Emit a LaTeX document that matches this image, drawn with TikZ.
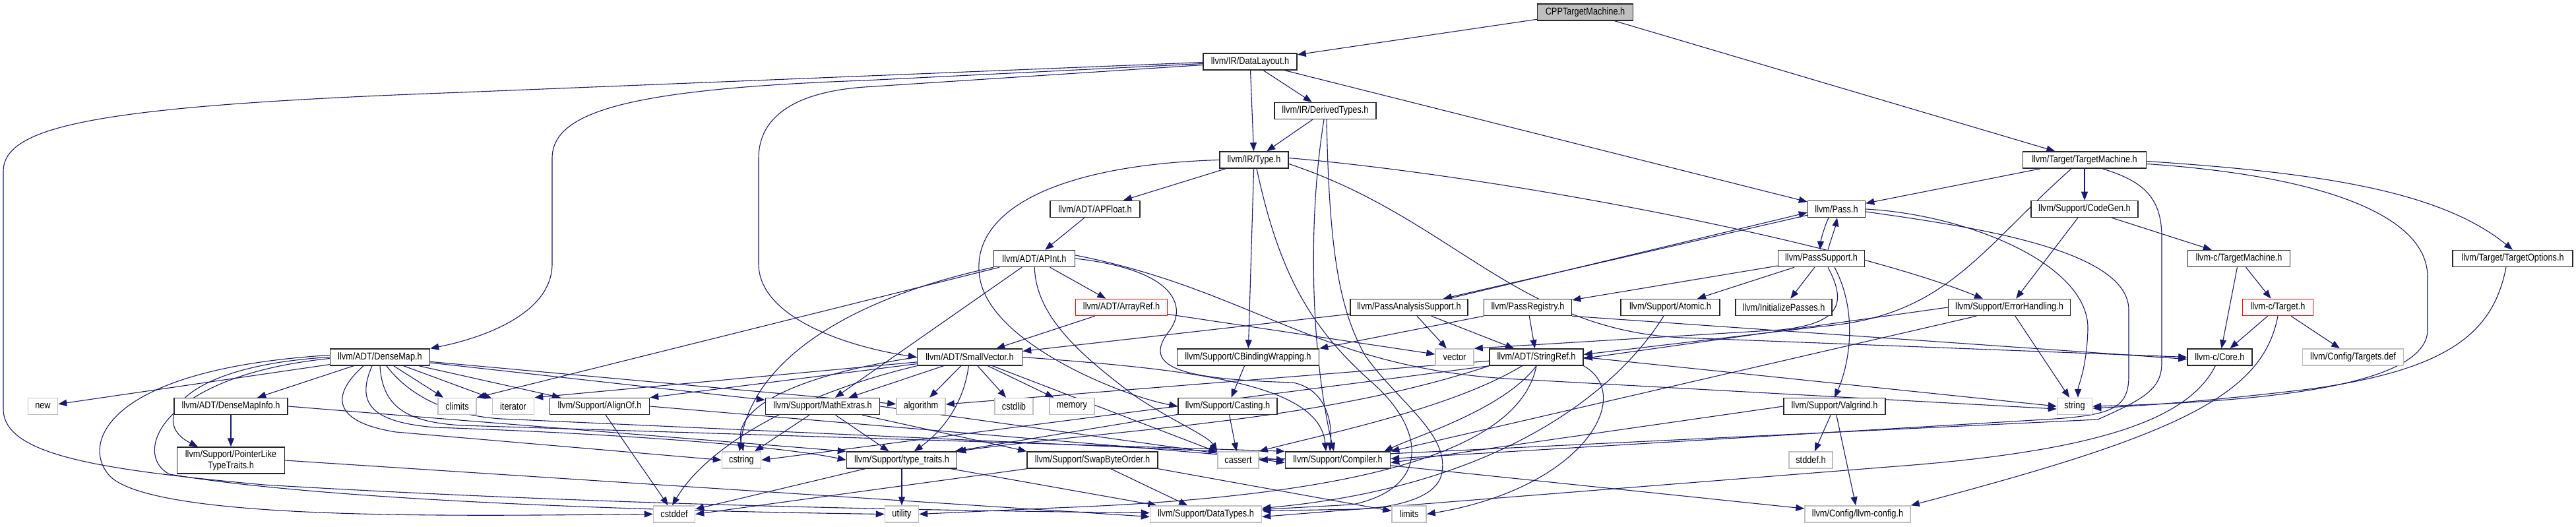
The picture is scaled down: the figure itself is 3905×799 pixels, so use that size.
\documentclass[tikz,border=0pt]{standalone}
\usepackage{fontspec}
\setmainfont{Liberation Sans}[FakeStretch=0.85]
\usetikzlibrary{arrows.meta,backgrounds}
\definecolor{eb}{HTML}{191970}
\definecolor{gb}{HTML}{BFBFBF}
\definecolor{rb}{HTML}{FF0000}
\begin{document}
\begin{tikzpicture}[x=1pt,y=-1pt,
  n/.style={draw=black!85, line width=1.5pt, fill=white, minimum height=25pt, inner sep=0pt, font=\fontsize{15}{17}\selectfont},
  g/.style={n, draw=gb},
  r/.style={n, draw=rb},
  root/.style={n, fill=gb},
  e/.style={draw=eb, line width=1.1pt, -{Triangle[length=13pt,width=10pt]}},
]
\useasboundingbox (0,0) rectangle (3905,799);
% ---------------- nodes
\node[root, minimum width=145pt] (CPP) at (2403,18.5) {CPPTargetMachine.h};
\node[n, minimum width=142pt] (DL) at (1895,93.5) {llvm/IR/DataLayout.h};
\node[n, minimum width=154pt] (DT) at (2009,168) {llvm/IR/DerivedTypes.h};
\node[n, minimum width=104pt] (TY) at (1901,242.5) {llvm/IR/Type.h};
\node[n, minimum width=187pt] (TM) at (3160,242.5) {llvm/Target/TargetMachine.h};
\node[n, minimum width=136pt] (APF) at (1660,317) {llvm/ADT/APFloat.h};
\node[n, minimum width=87pt] (PASS) at (2784,317) {llvm/Pass.h};
\node[n, minimum width=162pt] (CG) at (3160,317) {llvm/Support/CodeGen.h};
\node[n, minimum width=123pt] (API) at (1568,392) {llvm/ADT/APInt.h};
\node[n, minimum width=131pt] (PS) at (2761,392) {llvm/PassSupport.h};
\node[n, minimum width=155pt] (CTM) at (3394,392) {llvm-c/TargetMachine.h};
\node[n, minimum width=182pt] (TO) at (3809,392) {llvm/Target/TargetOptions.h};
\node[r, minimum width=139pt] (AR) at (1700,466) {llvm/ADT/ArrayRef.h};
\node[n, minimum width=178pt] (PAS) at (2136,466) {llvm/PassAnalysisSupport.h};
\node[n, minimum width=133pt] (PR) at (2316,466) {llvm/PassRegistry.h};
\node[n, minimum width=150pt] (AT) at (2532,466) {llvm/Support/Atomic.h};
\node[n, minimum width=146pt] (IP) at (2704,466) {llvm/InitializePasses.h};
\node[n, minimum width=185pt] (EH) at (3046,466) {llvm/Support/ErrorHandling.h};
\node[r, minimum width=107pt] (CT) at (3453,466) {llvm-c/Target.h};
\node[n, minimum width=151pt] (DM) at (576,541.5) {llvm/ADT/DenseMap.h};
\node[n, minimum width=159pt] (SV) at (1470,541.5) {llvm/ADT/SmallVector.h};
\node[n, minimum width=215pt] (CBW) at (1892,541.5) {llvm/Support/CBindingWrapping.h};
\node[g, minimum width=58pt] (VEC) at (2205,541.5) {vector};
\node[n, minimum width=142pt] (SR) at (2329,541.5) {llvm/ADT/StringRef.h};
\node[n, minimum width=98pt] (CORE) at (3365,541.5) {llvm-c/Core.h};
\node[g, minimum width=153pt] (TDEF) at (3567,541.5) {llvm/Config/Targets.def};
\node[g, minimum width=45pt] (NEW) at (65,616) {new};
\node[n, minimum width=172pt] (DMI) at (350,616) {llvm/ADT/DenseMapInfo.h};
\node[g, minimum width=58pt] (CLIM) at (693,616) {climits};
\node[g, minimum width=63pt] (ITER) at (778,616) {iterator};
\node[n, minimum width=151pt] (ALIGN) at (909,616) {llvm/Support/AlignOf.h};
\node[n, minimum width=173pt] (MATH) at (1247,616) {llvm/Support/MathExtras.h};
\node[g, minimum width=74pt] (ALGO) at (1396,616) {algorithm};
\node[g, minimum width=58pt] (CSTDLIB) at (1537,616) {cstdlib};
\node[g, minimum width=68pt] (MEM) at (1625,616) {memory};
\node[n, minimum width=150pt] (CAST) at (1861,616) {llvm/Support/Casting.h};
\node[n, minimum width=154pt] (VALG) at (2781,616) {llvm/Support/Valgrind.h};
\node[g, minimum width=53pt] (STR) at (3145,616) {string};
\node[n, minimum width=163pt, minimum height=40pt, align=center] (PLTT) at (350,698) {llvm/Support/PointerLike\\TypeTraits.h};
\node[g, minimum width=59pt] (CSTRING) at (1124,697.5) {cstring};
\node[n, minimum width=167pt] (TT) at (1367,697.5) {llvm/Support/type\_traits.h};
\node[n, minimum width=198pt] (SBO) at (1656,697.5) {llvm/Support/SwapByteOrder.h};
\node[g, minimum width=62pt] (CASSERT) at (1877,697.5) {cassert};
\node[n, minimum width=159pt] (COMP) at (2028,697.5) {llvm/Support/Compiler.h};
\node[g, minimum width=66pt] (STDDEF) at (2745,697.5) {stddef.h};
\node[g, minimum width=63pt] (CSTDDEF) at (1022,779.5) {cstddef};
\node[g, minimum width=51pt] (UTIL) at (1367,779.5) {utility};
\node[g, minimum width=169pt] (DTY) at (1828,779.5) {llvm/Support/DataTypes.h};
\node[g, minimum width=52pt] (LIM) at (2136,779.5) {limits};
\node[g, minimum width=160pt] (LCFG) at (2816,779.5) {llvm/Config/llvm-config.h};
% ---------------- edges
\begin{pgfonlayer}{background}
% root
\draw[e] (CPP) -- (DL);
\draw[e] (CPP) -- (TM);
% DataLayout
\draw[e] (DL) -- (DT);
\draw[e] (DL) -- (TY);
\draw[e] (DL) -- (PASS);
\draw[e] ([yshift=-1pt]DL.west) -- (700,140) .. controls (150,160) and (5,190) .. (5,260) -- (5,620) .. controls (5,690) and (150,712) .. (400,735) .. controls (900,765) and (1400,774) .. ([yshift=2pt]DTY.west);
\draw[e] ([yshift=-3pt]DL.west) -- (1310,122) .. controls (950,135) and (837,170) .. (837,240) -- (837,400) .. controls (837,480) and (720,515) .. (DM.north east);
\draw[e] ([yshift=-5pt]DL.west) -- (1310,132) .. controls (1200,140) and (1150,180) .. (1150,240) -- (1150,400) .. controls (1150,480) and (1280,525) .. (SV.west);
% DerivedTypes
\draw[e] (DT) -- (TY);
\draw[e] ([xshift=-2pt]DT.south) .. controls (1980,350) and (1990,550) .. ([xshift=-6pt]COMP.north);
\draw[e] ([xshift=2pt]DT.south) .. controls (2015,380) and (2030,470) .. (2070,540) .. controls (2120,610) and (2200,660) .. (2185,720) .. controls (2175,760) and (2100,770) .. (2060,772) -- ([yshift=5pt]DTY.east);
% Type
\draw[e] (TY) -- (APF);
\draw[e] (TY.west) .. controls (1600,250) and (1470,320) .. (1485,420) .. controls (1500,520) and (1700,600) .. (CAST.west);
\draw[e] (TY) -- (CBW);
\draw[e] ([xshift=4pt]TY.south) .. controls (1940,420) and (1990,500) .. (2080,580) .. controls (2160,650) and (2170,740) .. (2050,765) -- ([yshift=7pt]DTY.east);
\draw[e] ([yshift=3pt]TY.east) .. controls (2300,270) and (2800,370) .. ([xshift=-40pt]EH.north);
\draw[e] ([yshift=-6pt]TY.east) .. controls (2200,330) and (2300,500) .. (2550,512) -- (CORE.west);
% TargetMachine
\draw[e] (TM) -- (PASS);
\draw[e] (TM) -- (CG);
\draw[e] ([yshift=-2pt]TM.east) .. controls (3520,262) and (3700,290) .. (TO.north);
\draw[e] ([yshift=-6pt]TM.east) .. controls (3500,265) and (3680,320) .. (3680,420) -- (3680,500) .. controls (3680,590) and (3400,610) .. (STR.east);
\draw[e] ([xshift=27pt]TM.south) .. controls (3250,275) and (3277,300) .. (3277,360) -- (3277,550) .. controls (3277,590) and (3250,605) .. (3180,636) -- (CASSERT.east);
\draw[e] ([xshift=-20pt]TM.south) .. controls (3000,380) and (2950,480) .. (2760,495) -- ([yshift=4pt]SR.east);
% APFloat
\draw[e] (APF) -- (API);
% Pass
\draw[e] ([xshift=-12pt]PASS.south) .. controls (2765,345) and (2760,365) .. ([xshift=-2pt]PS.north);
\draw[e] ([xshift=10pt]PS.north) .. controls (2775,365) and (2782,345) .. ([xshift=1pt]PASS.south);
\draw[e] ([yshift=4pt]PASS.south west) -- ([xshift=52pt]PAS.north);
\draw[e] ([xshift=60pt]PAS.north) -- ([yshift=8pt]PASS.south west);
\draw[e] (PASS.east) .. controls (2980,325) and (3168,400) .. (3165,500) .. controls (3163,560) and (3150,585) .. ([xshift=5pt]STR.north);
\draw[e] ([yshift=-4pt]PASS.east) .. controls (3000,345) and (3227,380) .. (3227,470) -- (3227,570) .. controls (3227,620) and (3200,630) .. (3100,636) -- ([yshift=2pt]COMP.east);
% CodeGen
\draw[e] (CG) -- (CTM);
\draw[e] (CG) -- (EH);
% APInt
\draw[e] (API) -- (AR);
\draw[e] (API) -- (CLIM.north east);
\draw[e] (API) -- (MATH);
\draw[e] (API.south west) .. controls (1300,450) and (1140,540) .. ([xshift=-3pt]CSTRING.north);
\draw[e] (API) .. controls (1570,480) and (1640,540) .. (1720,600) .. controls (1780,640) and (1830,660) .. (CASSERT.north west);
\draw[e] (API.east) .. controls (1790,410) and (1800,470) .. (1770,505) .. controls (1730,560) and (1800,575) .. (1960,580) .. controls (2010,590) and (2020,640) .. ([xshift=-12pt]COMP.north);
\draw[e] ([yshift=5pt]API.east) .. controls (1900,440) and (2000,560) .. (2300,575) -- ([yshift=-4pt]STR.west);
% PassSupport
\draw[e] (PS) -- (IP);
\draw[e] (PS) -- (PR);
\draw[e] (PS) -- (AT);
\draw[e] ([xshift=20pt]PS.south) .. controls (2820,480) and (2800,560) .. (VALG.north);
\draw[e] ([xshift=10pt]PS.south) .. controls (2800,460) and (2790,490) .. (2700,500) -- (VEC.north east);
% llvm-c TargetMachine
\draw[e] (CTM) -- (CORE);
\draw[e] (CTM) -- (CT);
% TargetOptions
\draw[e] ([xshift=-10pt]TO.south) .. controls (3780,500) and (3720,560) .. (3500,590) .. controls (3350,608) and (3250,615) .. ([yshift=-3pt]STR.east);
% ArrayRef
\draw[e] (AR) -- (SV);
\draw[e] (AR) -- (VEC);
% PassAnalysisSupport
\draw[e] (PAS) -- (SV);
\draw[e] (PAS) -- (VEC);
\draw[e] (PAS) -- (SR);
% PassRegistry
\draw[e] (PR) -- (SR);
\draw[e] (PR) -- (CBW.north east);
\draw[e] (PR.south east) -- ([yshift=-3pt]CORE.west);
% Atomic
\draw[e] ([xshift=-10pt]AT.south) .. controls (2440,610) and (2250,740) .. ([yshift=9pt]DTY.east);
% ErrorHandling
\draw[e] (EH.west) -- ([yshift=-2pt]SR.east);
\draw[e] (EH) -- ([xshift=-8pt]STR.north);
\draw[e] ([xshift=-50pt]EH.south) -- (COMP.north east);
% llvm-c Target
\draw[e] (CT) -- (CORE);
\draw[e] (CT) -- (TDEF);
\draw[e] (CT.south) .. controls (3430,600) and (3300,660) .. (LCFG.north east);
% DenseMap
\draw[e] (DM) -- (NEW);
\draw[e] (DM) -- (DMI);
\draw[e] (DM.west) .. controls (270,555) and (225,640) .. ([xshift=-50pt]PLTT.north);
\draw[e] (DM) -- (CLIM);
\draw[e] (DM) -- (ITER);
\draw[e] (DM) -- (ALIGN);
\draw[e] (DM) -- (MATH);
\draw[e] (DM) -- (ALGO);
\draw[e] ([yshift=3pt]DM.west) .. controls (150,560) and (120,680) .. (170,725) .. controls (250,790) and (700,782) .. (CSTDDEF.west);
\draw[e] ([yshift=-2pt]DM.west) .. controls (240,570) and (200,690) .. (257,719) .. controls (500,760) and (1000,775) .. (UTIL.west);
\draw[e] ([xshift=-25pt]DM.south) .. controls (500,600) and (505,640) .. (600,655) -- (CSTRING.west);
\draw[e] ([xshift=-12pt]DM.south) .. controls (540,610) and (560,640) .. (660,648) .. controls (1000,660) and (1200,680) .. (TT.west);
\draw[e] (DM.south) .. controls (580,620) and (620,640) .. (700,645) -- (COMP.north west);
\draw[e] ([xshift=10pt]DM.south) .. controls (620,600) and (680,630) .. (760,635) -- (CASSERT.north west);
% SmallVector
\draw[e] (SV) -- (ALIGN.north east);
\draw[e] (SV) -- (ITER.north east);
\draw[e] (SV) -- (MATH);
\draw[e] (SV) -- (ALGO);
\draw[e] (SV) -- (CSTDLIB);
\draw[e] (SV) -- (MEM);
\draw[e] (SV) .. controls (1460,620) and (1420,660) .. (TT);
\draw[e] (SV) -- (CASSERT);
\draw[e] (SV.west) .. controls (1200,570) and (1110,620) .. ([xshift=3pt]CSTRING.north);
\draw[e] (SV.south west) .. controls (1200,600) and (1070,680) .. ([xshift=-3pt]CSTDDEF.north);
\draw[e] (SV.east) .. controls (1800,560) and (2000,580) .. ([xshift=-18pt]COMP.north);
% CBindingWrapping
\draw[e] (CBW) -- (CAST);
% StringRef
\draw[e] (SR.south west) .. controls (2000,640) and (1700,650) .. (TT.north east);
\draw[e] (SR) -- (ALGO);
\draw[e] (SR) .. controls (2200,620) and (2000,660) .. (CASSERT.north east);
\draw[e] (SR.south west) -- (CSTRING.east);
\draw[e] (SR.south east) .. controls (2480,600) and (2400,740) .. (LIM.east);
\draw[e] (SR.east) -- (STR.west);
\draw[e] (SR.south) .. controls (2300,700) and (2000,755) .. (1600,770) -- (UTIL.east);
\draw[e] (SR.south) .. controls (2280,620) and (2150,660) .. ([xshift=-10pt]COMP.north east);
% DenseMapInfo
\draw[e] (DMI) -- (PLTT);
\draw[e] (DMI.east) -- (TT.north west);
% AlignOf
\draw[e] (ALIGN) -- (CSTDDEF);
\draw[e] (ALIGN.east) -- (COMP.west);
% MathExtras
\draw[e] (MATH) -- (CSTRING);
\draw[e] (MATH) -- (TT);
\draw[e] (MATH) -- (SBO.north west);
\draw[e] (MATH.east) -- ([yshift=-4pt]COMP.west);
% Casting
\draw[e] (CAST) -- (TT);
\draw[e] (CAST) -- (CASSERT);
% Valgrind
\draw[e] (VALG) -- (STDDEF);
\draw[e] (VALG) -- (LCFG);
\draw[e] (VALG.west) -- ([yshift=-4pt]COMP.east);
% PointerLikeTypeTraits
\draw[e] (PLTT.east) -- ([yshift=-4pt]DTY.west);
% type_traits
\draw[e] (TT) -- (UTIL);
\draw[e] (TT) -- (DTY);
\draw[e] (TT) -- (CSTDDEF);
% SwapByteOrder
\draw[e] (SBO) -- (DTY);
\draw[e] (SBO.south west) -- (CSTDDEF.east);
\draw[e] (SBO.south east) -- (LIM);
% Compiler
\draw[e] (COMP) -- (LCFG);
% Core
\draw[e] (CORE) .. controls (3320,630) and (3200,680) .. (2900,705) -- ([yshift=-4pt]DTY.east);
\end{pgfonlayer}
\end{tikzpicture}
\end{document}
